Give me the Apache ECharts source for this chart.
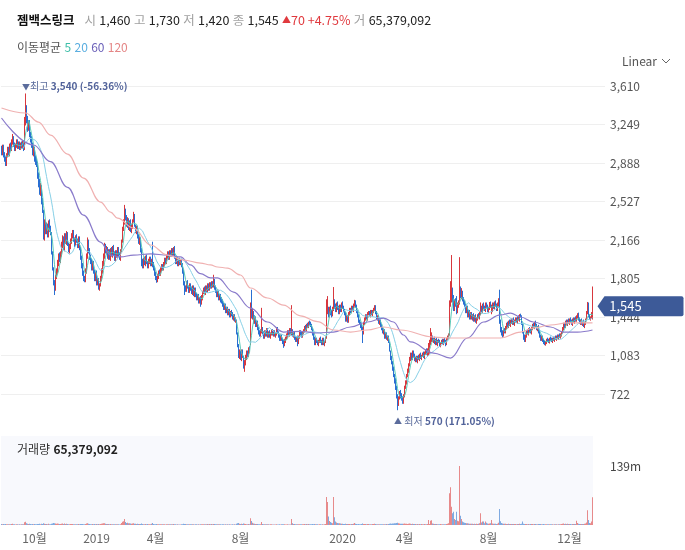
<!DOCTYPE html>
<html>
<head>
<meta charset="utf-8">
<script src="https://cdn.jsdelivr.net/npm/echarts@6/dist/echarts.min.js"></script>
<style>
  html, body { margin: 0; padding: 0; background: #fff; }
  #chart { width: 685px; height: 550px; }
</style>
</head>
<body>
<div id="chart"></div>
<script>
// trading calendar (KRX)
const startDate = '2018-08-09'
const dayCount = 592
const holidays = [
  '2018-08-15', '2018-09-24', '2018-09-25', '2018-09-26', '2018-10-03', '2018-10-09', '2018-12-25', '2018-12-31',
  '2019-01-01', '2019-02-04', '2019-02-05', '2019-02-06', '2019-03-01', '2019-05-01', '2019-05-06', '2019-06-06',
  '2019-08-15', '2019-09-12', '2019-09-13', '2019-10-03', '2019-10-09', '2019-12-25', '2019-12-31',
  '2020-01-01', '2020-01-24', '2020-01-27', '2020-04-15', '2020-04-30', '2020-05-01', '2020-05-05', '2020-08-17',
  '2020-09-30', '2020-10-01', '2020-10-02', '2020-10-09', '2020-12-25', '2020-12-31', '2021-01-01'
]
const labelMonths = ['2018-10', '2019-01', '2019-04', '2019-08', '2020-01', '2020-04', '2020-08', '2020-12']

// daily candles
const opens = [
  3010, 2980, 3040, 2970, 2930, 2870, 2960, 3020, 2970, 3050,
  3010, 3080, 3130, 3060, 3010, 3040, 3100, 3030, 3080, 3020,
  3070, 3030, 3090, 3030, 3290, 3400, 3310, 3210, 3270, 3160,
  3120, 3060, 2970, 3020, 2930, 2910, 2880, 2770, 2710, 2600,
  2660, 2530, 2430, 2190, 2330, 2240, 2300, 2200, 2340, 2270,
  2230, 2040, 1890, 1770, 1700, 1830, 1870, 1940, 2020, 1970,
  2030, 2110, 2190, 2080, 2210, 2140, 2230, 2120, 2060, 2100,
  2150, 2200, 2250, 2180, 2120, 2200, 2170, 2100, 2190, 2080,
  2000, 1930, 1860, 1810, 1780, 1870, 2010, 2160, 2070, 2010,
  1970, 1890, 1960, 1880, 1790, 1860, 1750, 1800, 1710, 1750,
  1800, 1870, 1940, 2010, 2110, 2050, 2090, 2000, 2070, 1990,
  2080, 2020, 2100, 2050, 1980, 2060, 2010, 2090, 2040, 1990,
  2060, 2150, 2270, 2330, 2430, 2390, 2300, 2360, 2270, 2340,
  2250, 2290, 2350, 2400, 2300, 2240, 2290, 2210, 2140, 2180,
  2070, 1960, 1920, 1990, 1940, 2010, 1950, 1910, 1960, 2000,
  1930, 1970, 1940, 1900, 1860, 1810, 1780, 1820, 1870, 1840,
  1880, 1930, 1890, 1930, 1990, 1950, 2000, 2050, 1990, 2060,
  2030, 2080, 2030, 2100, 2010, 1950, 2000, 1930, 1990, 1940,
  1970, 1940, 1880, 1750, 1730, 1690, 1770, 1720, 1680, 1750,
  1710, 1670, 1730, 1650, 1710, 1660, 1610, 1650, 1580, 1620,
  1570, 1620, 1680, 1710, 1670, 1730, 1680, 1750, 1700, 1760,
  1720, 1770, 1730, 1790, 1730, 1690, 1640, 1690, 1610, 1650,
  1610, 1600, 1570, 1520, 1560, 1490, 1530, 1470, 1510, 1450,
  1500, 1480, 1420, 1460, 1400, 1410, 1290, 1170, 1070, 1120,
  1050, 1130, 1070, 970, 1000, 1060, 1120, 1080, 1160, 1190,
  1560, 1440, 1490, 1390, 1440, 1360, 1400, 1340, 1310, 1270,
  1300, 1340, 1300, 1250, 1310, 1270, 1330, 1260, 1310, 1250,
  1280, 1320, 1270, 1310, 1260, 1280, 1340, 1300, 1270, 1230,
  1270, 1240, 1220, 1180, 1210, 1240, 1260, 1310, 1270, 1330,
  1280, 1310, 1260, 1300, 1250, 1220, 1260, 1200, 1250, 1310,
  1300, 1260, 1290, 1310, 1360, 1320, 1380, 1350, 1400, 1390,
  1370, 1330, 1290, 1250, 1190, 1240, 1220, 1180, 1210, 1250,
  1220, 1190, 1240, 1180, 1210, 1250, 1490, 1500, 1450, 1530,
  1490, 1460, 1520, 1600, 1560, 1500, 1570, 1540, 1480, 1550,
  1500, 1570, 1540, 1510, 1480, 1410, 1450, 1400, 1470, 1520,
  1490, 1540, 1500, 1550, 1590, 1550, 1500, 1460, 1410, 1390,
  1370, 1340, 1290, 1380, 1420, 1460, 1420, 1470, 1490, 1450,
  1500, 1460, 1490, 1510, 1550, 1490, 1420, 1450, 1380, 1410,
  1370, 1340, 1290, 1320, 1250, 1290, 1230, 1260, 1200, 1120,
  1070, 1010, 970, 890, 860, 780, 710, 630, 690, 740,
  710, 690, 640, 700, 790, 820, 900, 930, 1000, 1040,
  1100, 1050, 1120, 1090, 1030, 1070, 1020, 1080, 1040, 1100,
  1050, 1090, 1110, 1060, 1100, 1140, 1090, 1090, 1110, 1190,
  1230, 1260, 1210, 1250, 1190, 1240, 1180, 1230, 1220, 1170,
  1200, 1230, 1190, 1240, 1220, 1180, 1240, 1250, 1280, 1570,
  1640, 1690, 1640, 1520, 1590, 1620, 1490, 1550, 1580, 1710,
  1630, 1670, 1610, 1590, 1560, 1490, 1540, 1450, 1500, 1430,
  1480, 1420, 1470, 1410, 1460, 1390, 1420, 1470, 1430, 1470,
  1530, 1490, 1560, 1540, 1500, 1570, 1550, 1490, 1520, 1580,
  1480, 1500, 1570, 1520, 1590, 1560, 1510, 1550, 1640, 1410,
  1340, 1310, 1270, 1330, 1300, 1340, 1390, 1350, 1410, 1360,
  1420, 1380, 1430, 1370, 1400, 1440, 1390, 1450, 1410, 1470,
  1450, 1380, 1300, 1260, 1220, 1260, 1320, 1280, 1340, 1330,
  1290, 1330, 1380, 1340, 1400, 1370, 1320, 1360, 1310, 1270,
  1230, 1260, 1230, 1210, 1180, 1200, 1240, 1230, 1200, 1250,
  1240, 1210, 1250, 1220, 1260, 1230, 1270, 1240, 1280, 1250,
  1270, 1300, 1330, 1380, 1350, 1410, 1370, 1420, 1380, 1430,
  1410, 1370, 1430, 1390, 1440, 1410, 1440, 1480, 1430, 1380,
  1420, 1370, 1410, 1350, 1380, 1420, 1480, 1570, 1460, 1420,
  1440, 1460
]
const closes = [
  2990, 3030, 2960, 2920, 2880, 2950, 3010, 2980, 3040, 3020,
  3080, 3120, 3060, 3020, 3050, 3090, 3040, 3070, 3030, 3060,
  3040, 3080, 3020, 3280, 3380, 3300, 3220, 3260, 3150, 3110,
  3060, 2980, 3010, 2920, 2900, 2880, 2760, 2700, 2620, 2660,
  2520, 2440, 2200, 2320, 2250, 2290, 2210, 2330, 2260, 2240,
  2050, 1900, 1760, 1720, 1820, 1880, 1950, 2010, 1980, 2040,
  2120, 2180, 2090, 2200, 2150, 2220, 2130, 2070, 2110, 2160,
  2210, 2240, 2170, 2130, 2190, 2160, 2110, 2180, 2090, 2000,
  1920, 1850, 1800, 1790, 1880, 2020, 2150, 2060, 2000, 1960,
  1900, 1950, 1870, 1800, 1850, 1760, 1790, 1720, 1740, 1810,
  1880, 1950, 2020, 2100, 2060, 2080, 2010, 2060, 2000, 2070,
  2030, 2090, 2040, 1990, 2050, 2020, 2080, 2030, 2000, 2060,
  2150, 2260, 2330, 2420, 2380, 2310, 2350, 2280, 2330, 2260,
  2300, 2340, 2390, 2310, 2250, 2280, 2200, 2150, 2170, 2080,
  1950, 1930, 1980, 1950, 2000, 1960, 1920, 1970, 1990, 1940,
  1960, 1930, 1900, 1850, 1800, 1790, 1830, 1860, 1850, 1890,
  1920, 1900, 1940, 1980, 1960, 2010, 2040, 2000, 2050, 2030,
  2070, 2040, 2090, 2000, 1960, 1990, 1940, 1980, 1950, 1960,
  1930, 1870, 1760, 1720, 1700, 1760, 1730, 1690, 1740, 1710,
  1680, 1720, 1660, 1700, 1650, 1620, 1640, 1590, 1610, 1580,
  1630, 1670, 1700, 1680, 1720, 1690, 1740, 1710, 1750, 1730,
  1760, 1740, 1780, 1720, 1690, 1650, 1680, 1620, 1640, 1600,
  1590, 1560, 1530, 1550, 1500, 1520, 1480, 1500, 1460, 1490,
  1470, 1430, 1450, 1410, 1420, 1300, 1180, 1080, 1110, 1060,
  1120, 1080, 980, 1010, 1070, 1110, 1090, 1150, 1130, 1540,
  1450, 1480, 1400, 1430, 1370, 1390, 1330, 1300, 1280, 1310,
  1330, 1290, 1260, 1300, 1280, 1320, 1270, 1300, 1260, 1290,
  1310, 1280, 1300, 1270, 1290, 1330, 1300, 1260, 1240, 1260,
  1230, 1210, 1190, 1220, 1250, 1270, 1300, 1280, 1320, 1290,
  1300, 1270, 1290, 1240, 1230, 1250, 1210, 1260, 1300, 1290,
  1270, 1300, 1320, 1350, 1330, 1370, 1360, 1390, 1380, 1370,
  1330, 1280, 1240, 1200, 1230, 1210, 1190, 1220, 1240, 1210,
  1200, 1230, 1190, 1210, 1240, 1560, 1510, 1460, 1520, 1480,
  1470, 1520, 1580, 1550, 1510, 1560, 1530, 1490, 1540, 1510,
  1560, 1530, 1500, 1470, 1420, 1440, 1410, 1480, 1510, 1500,
  1530, 1510, 1560, 1580, 1540, 1490, 1450, 1400, 1380, 1360,
  1330, 1300, 1390, 1420, 1450, 1430, 1470, 1480, 1460, 1490,
  1470, 1500, 1520, 1540, 1480, 1430, 1440, 1390, 1400, 1360,
  1330, 1300, 1310, 1260, 1280, 1240, 1250, 1210, 1130, 1060,
  1020, 960, 900, 850, 780, 700, 640, 680, 730, 700,
  680, 650, 710, 780, 830, 890, 940, 990, 1050, 1090,
  1060, 1110, 1080, 1040, 1060, 1030, 1070, 1050, 1090, 1060,
  1080, 1100, 1070, 1110, 1130, 1100, 1140, 1120, 1200, 1280,
  1250, 1220, 1240, 1200, 1230, 1190, 1220, 1210, 1180, 1200,
  1220, 1200, 1230, 1210, 1190, 1240, 1260, 1280, 1560, 1700,
  1690, 1600, 1530, 1580, 1560, 1500, 1560, 1580, 1700, 1640,
  1660, 1600, 1580, 1550, 1500, 1530, 1460, 1490, 1440, 1470,
  1430, 1460, 1420, 1450, 1400, 1430, 1460, 1440, 1480, 1520,
  1500, 1550, 1530, 1510, 1560, 1540, 1500, 1530, 1570, 1540,
  1510, 1560, 1530, 1580, 1550, 1520, 1560, 1600, 1400, 1330,
  1300, 1280, 1320, 1300, 1350, 1380, 1360, 1400, 1370, 1410,
  1390, 1420, 1380, 1410, 1430, 1400, 1440, 1420, 1460, 1450,
  1380, 1300, 1250, 1230, 1270, 1310, 1290, 1330, 1320, 1300,
  1340, 1370, 1350, 1390, 1360, 1330, 1350, 1300, 1260, 1240,
  1250, 1220, 1200, 1190, 1210, 1230, 1220, 1210, 1240, 1230,
  1220, 1240, 1230, 1250, 1240, 1260, 1250, 1270, 1260, 1280,
  1300, 1340, 1370, 1360, 1400, 1380, 1410, 1390, 1420, 1400,
  1380, 1420, 1400, 1430, 1410, 1450, 1470, 1420, 1390, 1410,
  1380, 1400, 1360, 1390, 1420, 1480, 1560, 1450, 1430, 1440,
  1475, 1545
]
const lows = [
  2960, 2960, 2940, 2900, 2860, 2860, 2940, 2960, 2950, 3000,
  3000, 3060, 3040, 3000, 3000, 3030, 3020, 3020, 3010, 3010,
  3020, 3020, 3000, 3010, 3240, 3260, 3180, 3190, 3130, 3080,
  3030, 2960, 2950, 2900, 2870, 2850, 2740, 2660, 2590, 2580,
  2500, 2420, 2170, 2160, 2220, 2220, 2190, 2190, 2240, 2210,
  2030, 1880, 1740, 1650, 1690, 1800, 1850, 1920, 1960, 1950,
  2010, 2090, 2070, 2060, 2130, 2120, 2110, 2050, 2040, 2080,
  2130, 2180, 2150, 2100, 2110, 2140, 2090, 2090, 2070, 1980,
  1900, 1830, 1780, 1770, 1770, 1850, 1990, 2040, 1980, 1940,
  1880, 1880, 1850, 1780, 1780, 1740, 1740, 1700, 1690, 1730,
  1780, 1850, 1920, 1990, 2040, 2030, 1990, 1980, 1980, 1970,
  2010, 2000, 2020, 1970, 1960, 2000, 2000, 2010, 1980, 1970,
  2050, 2140, 2250, 2310, 2350, 2290, 2280, 2260, 2250, 2240,
  2230, 2270, 2330, 2290, 2230, 2220, 2180, 2130, 2120, 2050,
  1920, 1900, 1900, 1930, 1920, 1940, 1900, 1900, 1940, 1920,
  1920, 1910, 1880, 1830, 1790, 1765, 1770, 1800, 1830, 1830,
  1870, 1880, 1880, 1920, 1940, 1940, 1990, 1980, 1980, 2010,
  2010, 2020, 2020, 1990, 1940, 1940, 1920, 1920, 1930, 1930,
  1910, 1850, 1740, 1650, 1680, 1680, 1710, 1670, 1670, 1690,
  1660, 1650, 1640, 1630, 1630, 1600, 1600, 1570, 1570, 1540,
  1560, 1600, 1660, 1660, 1650, 1670, 1670, 1690, 1690, 1710,
  1710, 1720, 1720, 1700, 1670, 1630, 1630, 1600, 1600, 1580,
  1570, 1540, 1510, 1510, 1480, 1480, 1460, 1460, 1440, 1440,
  1450, 1420, 1410, 1400, 1390, 1280, 1160, 1060, 1050, 1040,
  1030, 1060, 960, 930, 990, 1040, 1070, 1070, 1110, 1180,
  1430, 1420, 1380, 1380, 1350, 1350, 1320, 1280, 1260, 1260,
  1290, 1280, 1240, 1240, 1260, 1260, 1250, 1250, 1250, 1240,
  1270, 1270, 1260, 1260, 1250, 1270, 1290, 1250, 1220, 1220,
  1220, 1190, 1155, 1170, 1200, 1230, 1250, 1270, 1260, 1280,
  1270, 1260, 1250, 1230, 1210, 1210, 1170, 1190, 1240, 1270,
  1250, 1250, 1280, 1300, 1320, 1310, 1340, 1340, 1370, 1350,
  1320, 1270, 1230, 1180, 1180, 1200, 1180, 1170, 1200, 1200,
  1180, 1180, 1180, 1170, 1200, 1240, 1470, 1440, 1440, 1460,
  1440, 1450, 1500, 1530, 1490, 1490, 1510, 1470, 1470, 1490,
  1490, 1520, 1490, 1460, 1400, 1400, 1390, 1390, 1460, 1480,
  1480, 1500, 1490, 1540, 1530, 1480, 1440, 1390, 1370, 1340,
  1320, 1200, 1280, 1370, 1410, 1420, 1410, 1460, 1450, 1440,
  1460, 1450, 1480, 1500, 1470, 1420, 1410, 1380, 1370, 1350,
  1320, 1290, 1280, 1240, 1240, 1230, 1220, 1200, 1120, 1040,
  1000, 940, 880, 820, 760, 680, 570, 610, 670, 680,
  660, 630, 630, 690, 770, 810, 880, 920, 980, 1030,
  1040, 1040, 1070, 1030, 1020, 1020, 1010, 1040, 1030, 1050,
  1040, 1070, 1060, 1050, 1090, 1090, 1080, 1080, 1100, 1180,
  1210, 1210, 1200, 1190, 1180, 1180, 1170, 1200, 1170, 1160,
  1190, 1190, 1180, 1200, 1170, 1180, 1230, 1240, 1270, 1540,
  1580, 1580, 1500, 1500, 1540, 1470, 1480, 1530, 1560, 1620,
  1610, 1590, 1560, 1540, 1480, 1480, 1440, 1440, 1420, 1420,
  1420, 1410, 1400, 1400, 1390, 1380, 1410, 1430, 1420, 1460,
  1490, 1480, 1520, 1500, 1490, 1530, 1490, 1480, 1510, 1530,
  1470, 1490, 1520, 1510, 1540, 1500, 1500, 1540, 1380, 1300,
  1270, 1250, 1260, 1290, 1290, 1330, 1350, 1340, 1360, 1350,
  1380, 1370, 1370, 1360, 1390, 1390, 1380, 1410, 1400, 1440,
  1370, 1290, 1230, 1210, 1210, 1250, 1280, 1270, 1300, 1290,
  1280, 1320, 1340, 1330, 1350, 1320, 1310, 1290, 1250, 1220,
  1220, 1210, 1190, 1180, 1175, 1190, 1210, 1200, 1195, 1220,
  1210, 1200, 1220, 1210, 1230, 1220, 1240, 1230, 1250, 1240,
  1260, 1290, 1320, 1340, 1340, 1370, 1360, 1380, 1370, 1390,
  1370, 1360, 1390, 1380, 1400, 1400, 1430, 1410, 1380, 1370,
  1370, 1360, 1350, 1340, 1370, 1410, 1470, 1440, 1420, 1410,
  1430, 1420
]
const highs = [
  3050, 3060, 3060, 2990, 2950, 2980, 3040, 3040, 3070, 3080,
  3110, 3160, 3140, 3080, 3070, 3110, 3110, 3090, 3090, 3080,
  3090, 3100, 3100, 3320, 3540, 3430, 3330, 3290, 3290, 3180,
  3140, 3080, 3050, 3040, 2960, 2940, 2900, 2800, 2740, 2700,
  2680, 2560, 2450, 2360, 2350, 2330, 2320, 2350, 2360, 2300,
  2240, 2060, 1910, 1790, 1840, 1900, 1980, 2040, 2050, 2060,
  2150, 2210, 2200, 2230, 2230, 2250, 2240, 2140, 2130, 2180,
  2230, 2260, 2260, 2190, 2210, 2220, 2180, 2200, 2200, 2100,
  2020, 1950, 1880, 1830, 1900, 2040, 2190, 2170, 2090, 2030,
  1990, 1970, 1970, 1890, 1870, 1880, 1810, 1810, 1760, 1830,
  1900, 1970, 2040, 2140, 2130, 2110, 2100, 2080, 2080, 2090,
  2100, 2110, 2120, 2060, 2070, 2070, 2100, 2100, 2050, 2080,
  2170, 2290, 2360, 2495, 2460, 2400, 2380, 2370, 2350, 2360,
  2320, 2360, 2430, 2410, 2310, 2300, 2300, 2220, 2200, 2190,
  2090, 1990, 2000, 2010, 2020, 2030, 1970, 1990, 2010, 2010,
  1990, 2150, 1960, 1920, 1870, 1830, 1850, 1880, 1890, 1910,
  1940, 1940, 1960, 2000, 2000, 2030, 2060, 2060, 2070, 2070,
  2090, 2090, 2100, 2110, 2020, 2010, 2010, 2000, 2000, 1980,
  1990, 1950, 1890, 1780, 1740, 1780, 1790, 1740, 1760, 1760,
  1730, 1740, 1740, 1720, 1720, 1670, 1660, 1660, 1630, 1640,
  1650, 1690, 1720, 1730, 1740, 1740, 1760, 1760, 1770, 1770,
  1780, 1780, 1840, 1800, 1740, 1700, 1700, 1700, 1660, 1660,
  1630, 1610, 1580, 1570, 1570, 1540, 1540, 1520, 1520, 1500,
  1510, 1490, 1470, 1470, 1440, 1420, 1300, 1190, 1140, 1130,
  1140, 1140, 1080, 1040, 1090, 1130, 1130, 1160, 1170, 1580,
  1700, 1530, 1500, 1460, 1450, 1410, 1410, 1350, 1320, 1330,
  1530, 1350, 1310, 1320, 1320, 1340, 1340, 1310, 1320, 1300,
  1330, 1330, 1320, 1320, 1300, 1350, 1350, 1310, 1280, 1280,
  1280, 1250, 1230, 1240, 1260, 1290, 1320, 1320, 1340, 1340,
  1555, 1330, 1300, 1310, 1260, 1260, 1270, 1270, 1320, 1320,
  1310, 1310, 1330, 1360, 1370, 1380, 1390, 1400, 1410, 1400,
  1380, 1340, 1300, 1260, 1250, 1250, 1230, 1230, 1250, 1260,
  1230, 1250, 1250, 1220, 1260, 1610, 1640, 1540, 1540, 1550,
  1510, 1540, 1725, 1610, 1570, 1580, 1590, 1550, 1560, 1560,
  1580, 1590, 1550, 1520, 1490, 1460, 1460, 1490, 1530, 1530,
  1550, 1550, 1570, 1605, 1600, 1560, 1510, 1470, 1420, 1400,
  1380, 1350, 1400, 1440, 1470, 1470, 1490, 1500, 1500, 1510,
  1510, 1510, 1530, 1555, 1555, 1500, 1460, 1460, 1420, 1420,
  1380, 1350, 1330, 1330, 1300, 1300, 1270, 1270, 1210, 1130,
  1080, 1030, 980, 910, 870, 800, 720, 700, 750, 760,
  730, 700, 720, 800, 850, 910, 960, 1010, 1070, 1110,
  1110, 1130, 1130, 1100, 1070, 1080, 1080, 1090, 1100, 1110,
  1090, 1110, 1120, 1120, 1140, 1150, 1150, 1200, 1230, 1340,
  1300, 1270, 1250, 1260, 1240, 1250, 1230, 1240, 1230, 1210,
  1230, 1240, 1240, 1250, 1230, 1250, 1270, 1290, 1600, 1780,
  2025, 1720, 1650, 1610, 1620, 1640, 1580, 1600, 2005, 1730,
  1715, 1690, 1630, 1600, 1570, 1550, 1550, 1510, 1510, 1490,
  1490, 1470, 1480, 1460, 1470, 1440, 1470, 1480, 1490, 1580,
  1550, 1570, 1580, 1550, 1580, 1580, 1560, 1540, 1585, 1590,
  1560, 1580, 1580, 1590, 1600, 1570, 1580, 1620, 1700, 1420,
  1350, 1320, 1330, 1340, 1360, 1390, 1400, 1410, 1420, 1420,
  1430, 1430, 1440, 1420, 1440, 1440, 1450, 1460, 1470, 1475,
  1460, 1390, 1310, 1280, 1280, 1320, 1330, 1340, 1350, 1340,
  1350, 1380, 1390, 1400, 1410, 1380, 1360, 1370, 1320, 1280,
  1270, 1270, 1240, 1220, 1220, 1240, 1250, 1240, 1250, 1260,
  1250, 1250, 1260, 1260, 1270, 1270, 1280, 1280, 1290, 1290,
  1310, 1350, 1390, 1390, 1410, 1420, 1420, 1430, 1430, 1440,
  1420, 1430, 1440, 1440, 1450, 1460, 1480, 1485, 1440, 1420,
  1430, 1410, 1420, 1400, 1430, 1500, 1585, 1580, 1470, 1450,
  1490, 1730
]
// volume in millions of shares
const volumes = [
  2.1, 1.8, 2.4, 1.6, 2.2, 1.9, 1.7, 1.5, 2.0, 1.6,
  2.3, 2.8, 1.9, 1.6, 1.4, 1.8, 1.5, 1.3, 1.6, 1.4,
  1.5, 2.0, 1.7, 6.5, 7.8, 4.2, 3.1, 2.6, 2.9, 2.2,
  2.0, 2.4, 1.8, 2.1, 1.7, 1.6, 2.5, 2.2, 2.8, 2.0,
  3.1, 2.6, 4.4, 3.0, 2.5, 2.2, 2.0, 2.7, 1.9, 1.8,
  3.2, 3.8, 4.6, 4.1, 3.5, 2.9, 3.3, 3.0, 2.2, 2.6,
  3.1, 3.4, 2.5, 3.6, 2.4, 3.2, 2.1, 1.9, 1.8, 2.3,
  2.6, 2.4, 1.9, 1.7, 2.0, 1.6, 1.5, 2.1, 1.8, 2.2,
  2.5, 2.3, 2.0, 1.9, 2.6, 3.4, 4.1, 2.8, 2.2, 1.9,
  2.0, 2.1, 1.8, 2.2, 1.7, 2.4, 1.9, 2.3, 1.8, 2.5,
  3.0, 3.5, 3.9, 4.2, 2.9, 2.6, 2.2, 2.5, 1.9, 2.1,
  1.8, 2.0, 1.7, 1.6, 1.9, 1.5, 1.8, 1.6, 1.4, 1.9,
  4.5, 7.9, 8.6, 14.0, 7.2, 4.8, 5.1, 3.9, 4.2, 3.5,
  3.2, 3.8, 4.4, 3.1, 2.7, 2.5, 2.9, 2.4, 2.1, 2.6,
  3.3, 2.5, 2.0, 1.8, 2.2, 1.9, 2.1, 1.7, 1.9, 1.6,
  2.8, 4.6, 2.4, 2.0, 1.9, 2.2, 1.8, 1.6, 1.5, 1.7,
  1.8, 1.5, 1.6, 1.9, 1.4, 1.7, 1.9, 1.5, 1.8, 1.6,
  1.9, 1.5, 2.2, 1.8, 1.6, 1.4, 1.5, 1.3, 1.4, 1.2,
  1.6, 2.0, 2.9, 2.3, 2.6, 1.9, 1.7, 1.8, 1.5, 1.6,
  1.7, 1.5, 1.6, 1.4, 1.5, 1.8, 1.3, 1.6, 1.4, 1.7,
  1.9, 1.7, 1.8, 1.5, 2.0, 1.6, 2.1, 1.7, 2.4, 1.8,
  2.2, 1.9, 2.6, 2.3, 1.8, 1.7, 1.6, 1.9, 1.5, 1.6,
  1.4, 1.5, 1.6, 1.3, 1.7, 1.4, 1.5, 1.2, 1.6, 1.3,
  1.4, 1.6, 1.3, 1.5, 1.4, 2.8, 3.9, 4.6, 2.7, 2.5,
  2.9, 2.2, 3.8, 3.1, 2.4, 2.0, 1.9, 2.3, 2.0, 16.0,
  9.5, 5.2, 3.6, 3.0, 2.4, 2.2, 2.1, 1.9, 1.8, 1.6,
  6.8, 2.4, 2.0, 1.8, 1.7, 1.9, 1.6, 1.5, 1.4, 1.6,
  1.5, 1.3, 1.4, 1.2, 1.3, 1.5, 1.4, 1.3, 1.6, 1.2,
  1.5, 1.7, 1.9, 1.6, 1.4, 1.3, 1.5, 1.2, 1.4, 1.3,
  14.0, 4.2, 2.5, 2.1, 1.8, 1.6, 2.0, 1.7, 1.9, 1.5,
  1.6, 1.8, 2.0, 2.4, 1.9, 2.2, 1.8, 2.5, 2.0, 1.7,
  1.9, 2.1, 1.8, 2.2, 1.6, 1.5, 1.7, 1.4, 1.6, 1.5,
  1.3, 1.5, 1.4, 1.6, 2.2, 66.0, 54.0, 20.0, 9.5, 6.8,
  5.1, 4.3, 66.0, 18.0, 8.2, 6.1, 4.8, 3.9, 4.2, 3.5,
  3.1, 2.8, 2.6, 2.4, 2.9, 2.2, 2.5, 2.1, 2.3, 2.0,
  2.4, 2.1, 3.2, 4.5, 2.8, 2.3, 2.0, 2.2, 1.9, 1.8,
  2.1, 3.4, 2.6, 2.2, 2.4, 1.9, 2.3, 2.1, 1.8, 2.0,
  1.9, 2.2, 2.4, 2.8, 2.1, 1.8, 1.7, 1.9, 1.6, 1.8,
  1.7, 1.9, 1.6, 2.0, 1.8, 2.1, 1.9, 2.3, 2.8, 3.4,
  3.0, 3.6, 3.3, 3.9, 4.2, 4.8, 5.5, 4.1, 3.6, 3.2,
  2.9, 2.7, 3.1, 3.4, 2.8, 3.0, 2.6, 2.9, 3.3, 2.7,
  2.5, 2.8, 2.3, 2.1, 2.4, 2.0, 2.2, 1.9, 2.3, 2.0,
  2.1, 1.9, 2.0, 2.2, 1.8, 2.0, 2.3, 12.0, 2.6, 10.0,
  11.0, 3.5, 2.8, 2.4, 2.6, 2.2, 2.0, 1.9, 1.7, 2.1,
  1.8, 1.6, 1.9, 1.7, 2.0, 2.4, 3.1, 4.0, 75.0, 89.0,
  43.0, 28.0, 31.0, 14.0, 12.0, 31.0, 10.0, 9.0, 139.0, 22.0,
  14.0, 8.0, 6.5, 5.2, 4.8, 4.1, 3.9, 3.5, 3.2, 3.0,
  2.8, 3.1, 2.6, 2.9, 2.4, 2.7, 2.5, 3.0, 4.2, 28.0,
  6.0, 8.0, 8.5, 4.0, 8.0, 5.2, 3.5, 3.0, 3.4, 4.0,
  12.0, 3.5, 3.0, 2.8, 3.2, 2.6, 2.9, 5.5, 38.0, 9.0,
  5.0, 3.8, 3.2, 2.8, 3.0, 2.5, 2.4, 2.7, 2.3, 2.6,
  2.4, 2.2, 2.5, 2.1, 2.3, 2.0, 2.6, 2.2, 2.9, 2.5,
  2.8, 8.0, 3.1, 2.6, 2.4, 2.2, 2.0, 2.3, 1.9, 2.1,
  2.2, 2.4, 2.0, 2.6, 2.1, 1.9, 2.0, 2.3, 2.5, 2.1,
  1.9, 2.0, 2.2, 1.8, 1.7, 1.9, 1.6, 1.5, 1.8, 1.6,
  1.5, 1.7, 1.4, 1.6, 1.5, 1.7, 1.4, 1.8, 1.6, 1.9,
  2.4, 3.1, 3.5, 2.6, 3.2, 2.4, 2.8, 2.2, 2.6, 2.1,
  2.0, 2.4, 2.1, 2.6, 2.2, 10.0, 4.5, 2.8, 2.2, 2.5,
  2.3, 2.6, 2.4, 2.8, 3.5, 6.0, 35.0, 12.0, 5.0, 4.0,
  8.0, 65.379092
]
// 60/120-day averages: [day index, price]
const ma60Points = [
  [0, 3310], [32, 3057], [49, 2900], [66, 2660], [82, 2400], [99, 2147], [109, 2025], [119, 2007],
  [132, 2025], [149, 2035], [166, 2025], [179, 2007], [189, 1932], [199, 1850], [209, 1810], [216, 1810],
  [232, 1678], [249, 1528], [266, 1397], [282, 1303], [299, 1310], [316, 1294], [332, 1303], [349, 1350],
  [366, 1397], [382, 1434], [392, 1397], [402, 1275], [409, 1210], [432, 1106], [449, 1059], [466, 1247],
  [482, 1397], [499, 1463], [509, 1481], [519, 1444], [532, 1397], [549, 1350], [562, 1303], [576, 1303],
  [591, 1322]
]
const ma120Points = [
  [0, 3404], [24, 3357], [37, 3272], [49, 3150], [66, 2972], [82, 2747], [99, 2522], [109, 2428],
  [116, 2372], [132, 2278], [149, 2119], [166, 2025], [182, 1978], [199, 1950], [209, 1932], [216, 1913],
  [226, 1903], [239, 1838], [249, 1716], [266, 1622], [282, 1556], [299, 1455], [316, 1400], [332, 1322],
  [349, 1303], [366, 1322], [382, 1350], [399, 1322], [432, 1256], [449, 1247], [482, 1247], [499, 1247],
  [519, 1303], [532, 1341], [549, 1369], [566, 1388], [591, 1388]
]

const upColor = '#d8383e'
const downColor = '#2a6fd2'
const font = "'Noto Sans CJK KR', 'Noto Sans', sans-serif"

function tradingDays () {
  const out = []
  const d = new Date(startDate + 'T00:00:00Z')
  while (out.length < dayCount) {
    const wd = d.getUTCDay()
    const s = d.toISOString().slice(0, 10)
    if (wd !== 0 && wd !== 6 && holidays.indexOf(s) < 0) out.push(s)
    d.setUTCDate(d.getUTCDate() + 1)
  }
  return out
}

function movingAvg (n) {
  return closes.map((c, i) => {
    if (i < n - 1) return '-'
    let s = 0
    for (let k = i - n + 1; k <= i; k++) s += closes[k]
    return Math.round(s / n)
  })
}

// zrender text style (graphic component uses fill, not color)
function ts (size, fill, weight) {
  return { fontFamily: font, fontSize: size, fill: fill, fontWeight: weight || 'normal' }
}

const dates = tradingDays()
const labelIdx = labelMonths.map(m => dates.findIndex(d => d.slice(0, 7) === m))
const last = closes.length - 1
const fmt = v => Math.round(v).toLocaleString('en-US')
const hiIdx = highs.indexOf(Math.max(...highs))
const loIdx = lows.indexOf(Math.min(...lows))
const pctFrom = v => ((closes[last] - v) / v * 100).toFixed(2)
const change = closes[last] - closes[last - 1]
const changePct = (change / closes[last - 1] * 100).toFixed(2)
const markRich = {
  t: { color: '#5b6c9c', fontSize: 8, fontFamily: font },
  a: { color: '#5b6c9c', fontSize: 10, fontFamily: font },
  b: { color: '#52639a', fontSize: 10, fontWeight: 'bold', fontFamily: font }
}

const chart = echarts.init(document.getElementById('chart'))
chart.setOption({
  animation: false,
  textStyle: { fontFamily: font },
  graphic: [
    {
      type: 'text',
      x: 17,
      y: 20,
      style: {
        text: '{n|젬백스링크}   {k|시} {v|' + fmt(opens[last]) + '} {k|고} {v|' + fmt(highs[last]) +
          '} {k|저} {v|' + fmt(lows[last]) + '} {k|종} {v|' + fmt(closes[last]) + '} {t|▲}{r|' + change +
          ' +' + changePct + '%} {k|거} {v|' + fmt(volumes[last] * 1e6) + '}',
        verticalAlign: 'middle',
        rich: {
          n: ts(12.5, '#111', 'bold'),
          k: ts(12.5, '#a0a0a0'),
          v: ts(12.5, '#222'),
          t: ts(9, '#e0393e'),
          r: ts(12.5, '#e0393e')
        }
      }
    },
    {
      type: 'text',
      x: 17,
      y: 47,
      style: {
        text: '{k|이동평균} {a|5} {b|20} {c|60} {d|120}',
        verticalAlign: 'middle',
        rich: {
          k: ts(12, '#555'),
          a: ts(12, '#3fbfa9'),
          b: ts(12, '#5aaee0'),
          c: ts(12, '#6a5fb8'),
          d: ts(12, '#e48585')
        }
      }
    },
    {
      type: 'text',
      x: 622,
      y: 61,
      style: { text: 'Linear', verticalAlign: 'middle', fontFamily: font, fontSize: 12, fill: '#555' }
    },
    {
      type: 'polyline',
      shape: { points: [[662, 59], [666, 63], [670, 59]] },
      style: { stroke: '#666', lineWidth: 1, fill: null }
    },
    {
      type: 'text',
      x: 17,
      y: 449,
      style: {
        text: '{k|거래량} {v|' + fmt(volumes[last] * 1e6) + '}',
        verticalAlign: 'middle',
        rich: {
          k: ts(12, '#333'),
          v: ts(12, '#222', 'bold')
        }
      }
    }
  ],
  grid: [
    { left: 1, top: 86, width: 604, height: 346.5 },
    { left: 1, top: 436, width: 592, height: 89, show: true, backgroundColor: '#f8f9fd', borderWidth: 0 }
  ],
  xAxis: [
    {
      type: 'category',
      gridIndex: 0,
      data: dates,
      max: dayCount + 11,
      axisLine: { show: false },
      axisTick: { show: false },
      axisLabel: { show: false },
      splitLine: { show: false }
    },
    {
      type: 'category',
      gridIndex: 1,
      data: dates,
      axisLine: { show: false },
      axisTick: { show: false },
      splitLine: { show: false },
      axisLabel: {
        interval: (i) => labelIdx.indexOf(i) >= 0,
        formatter: (v) => {
          const m = +v.slice(5, 7)
          return m === 1 ? v.slice(0, 4) : m + '월'
        },
        color: '#666',
        fontSize: 12,
        margin: 7
      }
    }
  ],
  yAxis: [
    {
      type: 'value',
      gridIndex: 0,
      position: 'right',
      min: 361,
      max: 3610,
      interval: 361,
      axisLine: { show: false },
      axisTick: { show: false },
      axisLabel: {
        color: '#555',
        fontSize: 12,
        margin: 5,
        showMinLabel: false,
        formatter: (v) => fmt(v)
      },
      splitLine: { showMinLine: false, lineStyle: { color: '#efefef' } }
    },
    {
      type: 'value',
      gridIndex: 1,
      position: 'right',
      min: 0,
      max: 210e6,
      interval: 139e6,
      axisLine: { show: false },
      axisTick: { show: false },
      splitLine: { show: false },
      axisLabel: {
        color: '#444',
        fontSize: 12,
        margin: 17,
        showMinLabel: false,
        showMaxLabel: false,
        formatter: (v) => Math.round(v / 1e6) + 'm'
      }
    }
  ],
  series: [
    {
      name: '가격',
      type: 'candlestick',
      xAxisIndex: 0,
      yAxisIndex: 0,
      barWidth: 1,
      z: 2,
      data: opens.map((o, i) => [o, closes[i], lows[i], highs[i]]),
      itemStyle: {
        color: upColor,
        color0: downColor,
        borderColor: upColor,
        borderColor0: downColor,
        borderWidth: 1
      },
      markPoint: {
        symbol: 'circle',
        symbolSize: 1,
        itemStyle: { color: 'rgba(0,0,0,0)' },
        data: [
          {
            coord: [hiIdx, highs[hiIdx]],
            label: {
              show: true,
              position: 'right',
              distance: 0,
              offset: [-4, -7],
              formatter: '{t|▼}{a|최고 }{b|' + fmt(highs[hiIdx]) + ' (' + pctFrom(highs[hiIdx]) + '%)}',
              rich: markRich
            }
          },
          {
            coord: [loIdx, lows[loIdx]],
            label: {
              show: true,
              position: 'right',
              distance: 0,
              offset: [-4, 11],
              formatter: '{t|▲}{a| 최저 }{b|' + fmt(lows[loIdx]) + ' (' + pctFrom(lows[loIdx]) + '%)}',
              rich: markRich
            }
          },
          {
            coord: [last, closes[last]],
            symbol: 'path://M0,10L7,0H84Q86,0 86,2V18Q86,20 84,20H7Z',
            symbolSize: [86, 20],
            symbolKeepAspect: false,
            symbolOffset: [48, 0],
            itemStyle: { color: '#3d5a98' },
            label: {
              show: true,
              position: 'inside',
              offset: [-15, 0],
              formatter: fmt(closes[last]),
              color: '#fff',
              fontSize: 13
            }
          }
        ]
      }
    },
    {
      name: 'MA5',
      type: 'line',
      xAxisIndex: 0,
      yAxisIndex: 0,
      data: movingAvg(5),
      showSymbol: false,
      z: 3,
      lineStyle: { width: 1, color: '#55c8b6' }
    },
    {
      name: 'MA20',
      type: 'line',
      xAxisIndex: 0,
      yAxisIndex: 0,
      data: movingAvg(20),
      showSymbol: false,
      z: 3,
      lineStyle: { width: 1, color: '#86cfe6' }
    },
    {
      name: 'MA60',
      type: 'line',
      xAxisIndex: 0,
      yAxisIndex: 0,
      data: ma60Points,
      showSymbol: false,
      smooth: 0.4,
      smoothMonotone: 'x',
      z: 3,
      lineStyle: { width: 1.2, color: '#8a7bcb' }
    },
    {
      name: 'MA120',
      type: 'line',
      xAxisIndex: 0,
      yAxisIndex: 0,
      data: ma120Points,
      showSymbol: false,
      smooth: 0.4,
      smoothMonotone: 'x',
      z: 3,
      lineStyle: { width: 1.2, color: '#f0b1b1' }
    },
    {
      name: '거래량',
      type: 'bar',
      xAxisIndex: 1,
      yAxisIndex: 1,
      barWidth: 1,
      data: volumes.map((v, i) => ({
        value: v * 1e6,
        itemStyle: { color: closes[i] >= opens[i] ? 'rgba(226,110,110,0.8)' : 'rgba(96,150,218,0.8)' }
      }))
    }
  ]
})
</script>
</body>
</html>
